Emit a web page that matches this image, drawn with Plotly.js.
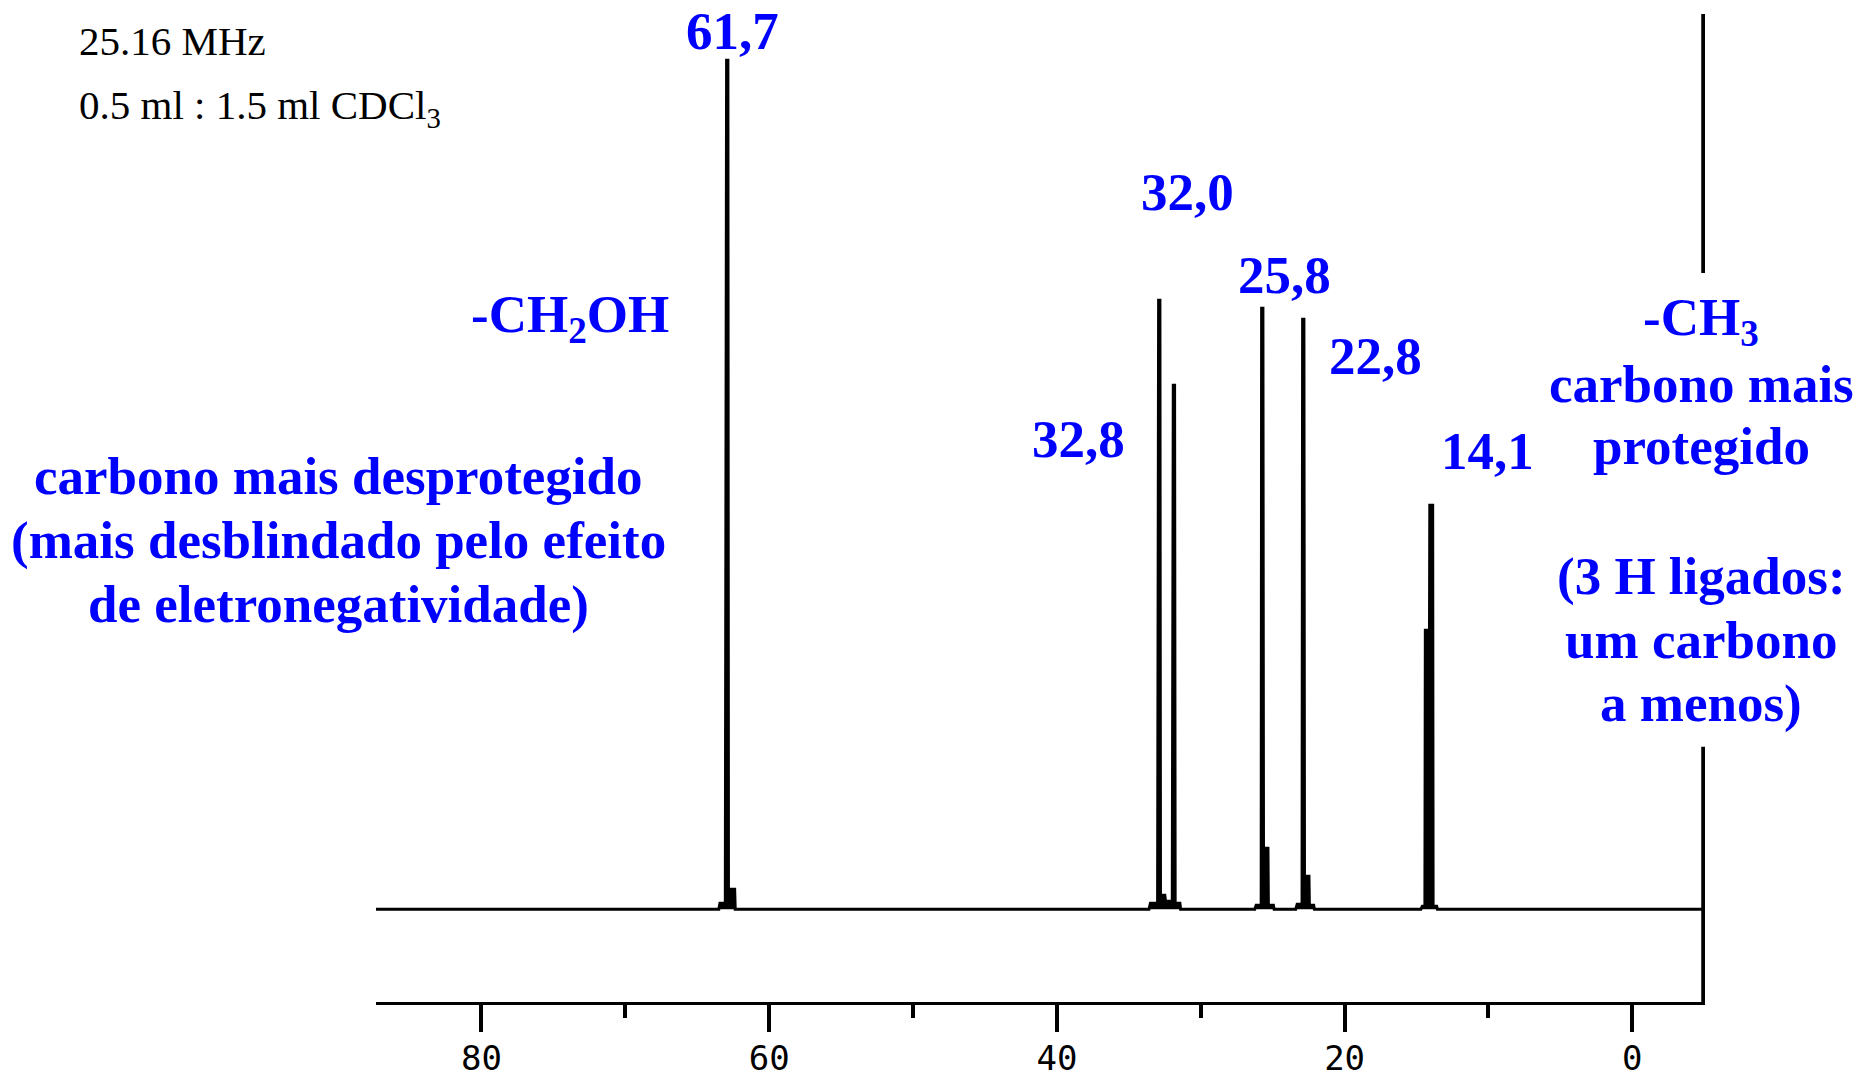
<!DOCTYPE html>
<html><head><meta charset="utf-8">
<script src="https://cdn.plot.ly/plotly-3.0.1.min.js"></script>
<style>html,body{margin:0;padding:0;background:#fff}#chart{width:1860px;height:1077px}</style>
</head><body><div id="chart"></div>
<script>
// 13C NMR spectrum vertices (chemical shift in ppm, intensity)
const specPpm = [87.33,
  63.50,63.42,63.05,62.96,62.87,62.83,62.40,62.36,
  33.60,33.50,33.00,32.93,32.84,32.80,32.50,32.45,31.98,31.91,31.82,31.78,31.45,31.40,
  26.25,26.15,25.80,25.77,25.68,25.64,25.33,25.30,24.95,24.90,
  23.40,23.30,22.96,22.92,22.83,22.79,22.48,22.45,22.15,22.10,
  14.70,14.60,14.42,14.39,14.10,14.08,13.88,13.85,13.60,13.55,
  -4.98];
const specInt = [0,
  0,6,6,849,849,20,20,0,
  0,6,6,609,609,14,14,8,8,524,524,6,6,0,
  0,4,4,601,601,61,61,4,4,0,
  0,5,5,590,590,33,33,4,4,0,
  0,3,3,279,279,404,404,3,3,0,
  0];
const tickVals = [80, 60, 40, 20, 0];
const tickLabels = ['80', '60', '40', '20', '0'];
const peakLabels = ['61,7', '32,0', '25,8', '22,8', '32,8', '14,1'];
const leftNotes = ['carbono mais desprotegido', '(mais desblindado pelo efeito', 'de eletronegatividade)'];
const rightNotes = ['carbono mais', 'protegido', '(3 H ligados:', 'um carbono', 'a menos)'];
const headerNotes = ['25.16 MHz', '0.5 ml : 1.5 ml CDCl<sub>3</sub>'];
const refLinePpm = -4.98;

// plot-area geometry (pixels) used only to place free text
const L = 376, R = 1705, T = 14, B = 1002;
const px = v => (v - L) / (R - L);
const py = v => (B - v) / (B - T);

const blue = '#0000FF';
const bold = {family: '"Liberation Serif", "Times New Roman", serif', size: 53, color: blue, weight: 'bold'};
const ann = [];
function add(text, x, y, xa, ya, font) {
  ann.push({text: text, x: px(x), y: py(y), xref: 'paper', yref: 'paper',
    xanchor: xa || 'center', yanchor: ya || 'middle', showarrow: false, font: font || bold, borderpad: 0});
}
const peakPos = [[732,31],[1187,192],[1284,275],[1375,356],[1078,439]];
peakPos.forEach((p, i) => add(peakLabels[i], p[0], p[1]));
add(peakLabels[5], 1440, 451, 'left');
add('-CH<sub>2</sub>OH', 570, 283.5, 'center', 'top');
[476, 540, 604].forEach((y, i) => add(leftNotes[i], 338, y));
add('-CH<sub>3</sub>', 1701, 287, 'center', 'top');
[384, 446, 576, 640, 703].forEach((y, i) => add(rightNotes[i], 1701, y));
const reg = {family: '"Liberation Serif", "Times New Roman", serif', size: 41, color: '#000'};
add(headerNotes[0], 78, 17, 'left', 'top', reg);
add(headerNotes[1], 78, 81, 'left', 'top', reg);

const trace = {
  x: specPpm, y: specInt, type: 'scatter', mode: 'lines',
  line: {color: '#000', width: 3}, fill: 'tozeroy', fillcolor: '#000',
  hoverinfo: 'skip', cliponaxis: false
};

const layout = {
  width: 1860, height: 1077,
  margin: {l: L, r: 1860 - R, t: T, b: 1077 - B, pad: 0},
  paper_bgcolor: '#fff', plot_bgcolor: '#fff',
  showlegend: false,
  xaxis: {
    range: [87.33, -5.05], showgrid: false, zeroline: false,
    showline: true, linecolor: '#000', linewidth: 3,
    ticks: 'outside', ticklen: 27, tickwidth: 4, tickcolor: '#000',
    tickmode: 'array', tickvals: tickVals, ticktext: tickLabels,
    ticklabelstandoff: -3,
    tickfont: {family: '"DejaVu Sans Mono", monospace', size: 34, color: '#000'},
    minor: {tickmode: 'linear', tick0: 0, dtick: 10, ticks: 'outside', ticklen: 13, tickwidth: 4, tickcolor: '#000', showgrid: false}
  },
  yaxis: {range: [-92.7, 895.3], visible: false, showgrid: false, zeroline: false},
  shapes: [
    {type: 'line', xref: 'x', yref: 'y', x0: refLinePpm, x1: refLinePpm, y0: -92.7, y1: 162.6, line: {color: '#000', width: 5.5}},
    {type: 'line', xref: 'x', yref: 'y', x0: refLinePpm, x1: refLinePpm, y0: 636.3, y1: 895.3, line: {color: '#000', width: 5.5}}
  ],
  annotations: ann
};

Plotly.newPlot('chart', [trace], layout, {displayModeBar: false, staticPlot: true});
</script>
</body></html>
